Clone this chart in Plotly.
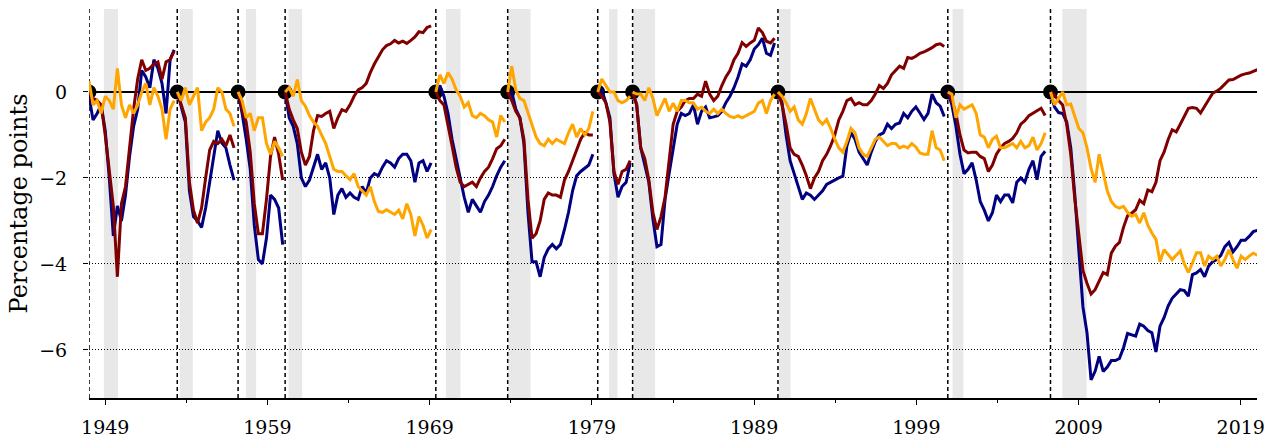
import plotly.graph_objects as go

# Cycle peaks (decimal years); each series is re-based to 0 at its peak
peak_dates = [1948.0, 1953.44, 1957.19, 1960.09, 1969.38, 1973.81,
              1979.36, 1981.51, 1990.47, 2000.94, 2007.27]

# NBER recessions (decimal years) for the grey bands
recession_start = [1948.92, 1953.6, 1957.67, 1960.3, 1970.0, 1973.85,
                   1980.06, 1981.55, 1990.53, 2001.23, 2008.0]
recession_end = [1949.79, 1954.4, 1958.3, 1961.14, 1970.9, 1975.22,
                 1980.58, 1982.9, 1991.25, 2001.9, 2009.5]

# Quarterly values (percentage points) after each peak
navy_48 = [-0.1, -0.65, -0.5, -0.3, -0.9, -2.0, -3.35, -2.65, -3.0, -2.4,
           -1.5, -0.8, -0.4, 0.5, 0.35, 0.1, 0.75, 0.55, 0.2, -0.5, 0.75, 0.98]
maroon_48 = [0.0, -0.15, -0.2, -0.3, -1.0, -1.9, -2.65, -4.3, -2.6, -2.2,
             -1.3, -0.4, 0.3, 0.75, 0.5, 0.55, 0.65, 0.7, 0.3, 0.7, 0.75, 0.95]
orange_48 = [0.25, -0.3, -0.2, -0.5, -0.1, -0.2, -0.4, 0.55, -0.3, -0.6,
             -0.3, -0.5, -0.3, 0.0, 0.2, -0.3, 0.1, -0.1, -0.4, -1.1, -0.4, -0.2]

navy_53 = [0, -0.35, -0.7, -2.3, -2.9, -3.0, -3.15, -2.7, -2.1, -1.5,
           -0.9, -1.19, -1.3, -1.7, -2.05]
maroon_53 = [0, -0.3, -0.6, -2.1, -2.75, -3.05, -2.7, -2.0, -1.35, -1.15,
             -1.2, -1.1, -1.25, -1.0, -1.3]
orange_53 = [0, -0.2, 0.1, -0.3, -0.1, 0.1, -0.9, -0.7, -0.6, -0.4,
             0.1, 0.0, -0.4, -0.5, -0.8]

navy_57 = [0, -0.5, -1.1, -1.8, -3.1, -3.9, -4.0, -3.4, -2.4, -2.5, -2.7, -3.55]
maroon_57 = [0, -0.4, -0.7, -1.4, -2.6, -3.3, -3.3, -2.5, -1.5, -1.05, -1.45, -2.05]
orange_57 = [0, -0.2, -0.6, -0.5, -0.9, -0.6, -0.6, -1.2, -1.45, -1.15, -1.3, -1.5]

navy_60 = [0, -0.6, -0.8, -1.2, -2.0, -2.2, -2.05, -1.75, -1.45, -1.8,
           -1.65, -2.0, -2.85, -2.4, -2.25, -2.45, -2.35, -2.45, -2.5, -2.2,
           -2.35, -2.0, -1.9, -1.95, -1.75, -1.6, -1.65, -1.75, -1.55, -1.45,
           -1.45, -1.6, -2.1, -1.65, -1.6, -1.85, -1.65]
maroon_60 = [0, -0.4, -0.65, -0.85, -1.4, -1.7, -1.5, -0.9, -0.55, -0.57,
             -0.5, -0.45, -0.85, -0.6, -0.41, -0.45, -0.3, -0.1, 0.05, 0.1,
             0.2, 0.45, 0.65, 0.83, 0.98, 1.08, 1.12, 1.2, 1.14, 1.18,
             1.13, 1.2, 1.28, 1.4, 1.38, 1.5, 1.54]
orange_60 = [0, 0.1, -0.1, 0.29, -0.2, -0.33, -0.55, -0.7, -0.8, -1.0,
             -1.2, -1.5, -1.8, -1.85, -1.85, -1.95, -2.04, -1.9, -2.2, -2.3,
             -2.4, -2.2, -2.55, -2.78, -2.8, -2.74, -2.8, -2.85, -2.75, -2.95,
             -2.6, -2.85, -3.35, -2.9, -3.1, -3.4, -3.2]

navy_69 = [0, 0.15, -0.1, -0.5, -1.1, -1.55, -2.0, -2.45, -2.8, -2.5,
           -2.65, -2.8, -2.55, -2.4, -2.2, -1.95, -1.75, -1.6]
maroon_69 = [0, -0.2, -0.3, -0.75, -1.25, -1.75, -2.1, -2.2, -2.15, -2.1,
             -2.2, -2.0, -1.85, -1.75, -1.55, -1.32, -1.25, -1.1]
orange_69 = [0, 0.4, 0.2, 0.45, 0.3, 0.05, -0.1, -0.35, -0.25, -0.55,
             -0.6, -0.5, -0.55, -0.65, -0.7, -1.05, -0.55, -0.7]

navy_73 = [0, 0.0, -0.4, -0.6, -1.2, -2.8, -3.95, -3.95, -4.3, -3.85,
           -3.65, -3.55, -3.65, -3.55, -3.2, -2.8, -2.3, -1.95, -1.85, -1.78,
           -1.7, -1.45]
maroon_73 = [0, -0.2, -0.45, -0.6, -1.1, -2.5, -3.4, -3.3, -3.0, -2.5,
             -2.35, -2.4, -2.4, -2.45, -2.05, -1.85, -1.6, -1.35, -1.1, -0.95,
             -1.0, -1.0]
orange_73 = [0, 0.6, 0.05, -0.15, -0.2, -0.5, -0.8, -1.05, -1.2, -1.25,
             -1.1, -1.2, -1.1, -1.15, -1.2, -0.95, -0.75, -1.05, -0.85, -1.0,
             -0.85, -0.45]

navy_79 = [0, 0.05, -0.25, -0.6, -1.9, -2.45, -2.2, -2.1, -1.65]
maroon_79 = [0, -0.1, -0.25, -0.7, -1.85, -2.15, -1.85, -1.8, -1.6]
orange_79 = [0, 0.3, 0.15, 0.0, 0.0, -0.2, -0.25, -0.2, -0.1]

navy_81 = [0, -0.3, -1.3, -1.7, -2.1, -2.95, -3.6, -3.55, -2.5, -1.9,
           -1.3, -0.75, -0.5, -0.55, -0.5, -0.3, -0.75, -0.45, -0.35, -0.6,
           -0.58, -0.55, -0.45, -0.25, -0.1, 0.1, 0.35, 0.65, 0.6, 0.75,
           1.0, 1.1, 1.25, 0.9, 0.85, 1.14]
maroon_81 = [0, -0.3, -1.3, -1.55, -2.05, -2.8, -3.2, -2.9, -2.45, -1.6,
             -0.75, -0.45, -0.35, -0.2, -0.15, -0.15, -0.05, -0.1, 0.25, -0.05,
             -0.2, -0.1, 0.15, 0.35, 0.5, 0.75, 0.9, 1.15, 1.06, 1.14,
             1.2, 1.49, 1.38, 1.18, 1.14, 1.25]
orange_81 = [0, -0.05, -0.05, -0.2, 0.1, -0.15, -0.55, -0.35, -0.15, -0.45,
             -0.26, -0.45, -0.2, -0.2, -0.25, -0.25, -0.4, -0.35, -0.45, -0.5,
             -0.4, -0.5, -0.4, -0.5, -0.57, -0.6, -0.55, -0.6, -0.55, -0.5,
             -0.45, -0.26, -0.2, -0.5, -0.2, -0.05]

navy_90 = [0, -0.25, -1.0, -1.6, -1.9, -2.2, -2.5, -2.35, -2.4, -2.5,
           -2.4, -2.3, -2.15, -2.1, -2.04, -2.0, -1.96, -1.25, -0.95, -1.1,
           -1.4, -1.55, -1.7, -1.4, -1.15, -1.0, -0.95, -0.75, -0.85, -0.75,
           -0.72, -0.5, -0.6, -0.45, -0.35, -0.49, -0.64, -0.5, -0.05, -0.25,
           -0.33, -0.57]
maroon_90 = [0, -0.3, -0.75, -1.3, -1.45, -1.5, -1.7, -1.95, -2.25, -2.0,
             -1.85, -1.6, -1.45, -1.25, -1.0, -0.65, -0.45, -0.2, -0.15, -0.3,
             -0.25, -0.3, -0.3, -0.2, -0.05, 0.15, 0.08, 0.2, 0.4, 0.5,
             0.6, 0.55, 0.8, 0.78, 0.83, 0.9, 0.93, 0.98, 1.03, 1.1,
             1.12, 1.06]
orange_90 = [0, -0.1, -0.25, -0.45, -0.35, -0.65, -0.75, -0.5, -0.15, -0.4,
             -0.65, -0.75, -0.64, -0.85, -1.1, -1.3, -1.4, -1.15, -0.85, -0.95,
             -1.3, -1.45, -1.5, -1.3, -1.1, -1.05, -1.15, -1.25, -1.2, -1.2,
             -1.3, -1.26, -1.3, -1.2, -1.28, -1.42, -1.45, -1.45, -0.9, -1.3,
             -1.35, -1.6]

navy_00 = [0, -0.3, -0.8, -1.45, -1.9, -1.8, -1.65, -2.05, -2.55, -2.75,
           -3.0, -2.81, -2.4, -2.55, -2.4, -2.4, -2.58, -2.1, -2.0, -2.1,
           -1.8, -1.6, -2.04, -1.5, -1.38]
maroon_00 = [0, -0.2, -0.5, -1.0, -1.35, -1.42, -1.4, -1.4, -1.5, -1.55,
             -1.85, -1.7, -1.45, -1.3, -1.2, -1.15, -1.08, -0.95, -0.75, -0.67,
             -0.55, -0.49, -0.42, -0.38, -0.55]
orange_00 = [0, -0.05, -0.6, -0.3, -0.4, -0.35, -0.3, -0.5, -1.0, -1.05,
             -1.3, -1.1, -1.03, -1.3, -1.3, -1.25, -1.2, -1.3, -1.15, -1.3,
             -1.25, -1.05, -1.35, -1.2, -0.95]

navy_07 = [0, -0.35, -0.48, -0.5, -0.7, -1.3, -2.4, -3.6, -5.0, -5.6,
           -6.7, -6.5, -6.15, -6.5, -6.4, -6.25, -6.25, -6.2, -5.95, -5.62,
           -5.65, -5.68, -5.4, -5.45, -5.55, -5.6, -6.05, -5.45, -5.25, -4.98,
           -4.8, -4.7, -4.6, -4.62, -4.75, -4.25, -4.21, -4.13, -4.3, -4.05,
           -3.95, -3.9, -3.8, -3.6, -3.5, -3.72, -3.6, -3.45, -3.45, -3.36,
           -3.25, -3.22]
maroon_07 = [0, -0.08, -0.2, -0.3, -0.75, -1.45, -2.5, -3.4, -4.15, -4.45,
             -4.7, -4.6, -4.4, -4.2, -4.25, -3.75, -3.59, -3.5, -3.15, -2.88,
             -2.82, -2.74, -2.52, -2.6, -2.28, -2.32, -2.1, -1.6, -1.4, -1.11,
             -0.88, -0.93, -0.75, -0.55, -0.38, -0.36, -0.38, -0.49, -0.35, -0.18,
             -0.03, 0.02, 0.09, 0.18, 0.28, 0.29, 0.34, 0.39, 0.42, 0.44,
             0.48, 0.52]
orange_07 = [0, -0.3, -0.15, 0.0, -0.3, -0.28, -0.57, -0.85, -0.95, -1.3,
             -1.78, -2.1, -1.45, -1.9, -2.3, -2.55, -2.66, -2.7, -2.66, -2.8,
             -2.89, -2.85, -3.05, -2.81, -3.1, -3.28, -3.43, -3.95, -3.67, -3.78,
             -3.9, -3.8, -3.7, -4.0, -4.2, -3.98, -3.74, -3.74, -4.05, -3.82,
             -3.9, -3.82, -4.05, -3.9, -3.67, -3.9, -4.1, -3.82, -3.9, -3.82,
             -3.75, -3.8]

navy_series = [navy_48, navy_53, navy_57, navy_60, navy_69, navy_73,
               navy_79, navy_81, navy_90, navy_00, navy_07]
maroon_series = [maroon_48, maroon_53, maroon_57, maroon_60, maroon_69, maroon_73,
                 maroon_79, maroon_81, maroon_90, maroon_00, maroon_07]
orange_series = [orange_48, orange_53, orange_57, orange_60, orange_69, orange_73,
                 orange_79, orange_81, orange_90, orange_00, orange_07]

x_min, x_max = 1948.0, 2020.0
y_min, y_max = -7.12, 1.93
FONT = "DejaVu Serif"

fig = go.Figure()

shapes = []
for a, b in zip(recession_start, recession_end):
    shapes.append(dict(type="rect", xref="x", yref="paper", x0=a, x1=b, y0=0, y1=1,
                       fillcolor="#e8e8e8", line_width=0, layer="below"))
for p in peak_dates:
    shapes.append(dict(type="line", xref="x", yref="paper", x0=p, x1=p, y0=0, y1=1,
                       line=dict(color="black", width=1.5, dash="4px,3px"),
                       layer="between"))

# horizontal reference at zero
fig.add_trace(go.Scatter(x=[x_min, x_max], y=[0, 0], mode="lines",
                         line=dict(color="black", width=2), hoverinfo="skip"))

# markers at each peak
fig.add_trace(go.Scatter(x=peak_dates, y=[0] * len(peak_dates), mode="markers",
                         marker=dict(color="black", size=15), hoverinfo="skip"))

for series, color in ((navy_series, "#000080"), (maroon_series, "#800000"),
                      (orange_series, "#FFA500")):
    for start, vals in zip(peak_dates, series):
        xs = [start + 0.25 * i for i in range(len(vals))]
        fig.add_trace(go.Scatter(x=xs, y=vals, mode="lines",
                                 line=dict(color=color, width=3)))

fig.update_layout(
    width=1277, height=442, autosize=False,
    margin=dict(l=89, r=20, t=9, b=44),
    paper_bgcolor="white", plot_bgcolor="white",
    showlegend=False, shapes=shapes,
    font=dict(family=FONT, size=19, color="black"),
    xaxis=dict(range=[x_min, x_max], tick0=1949, dtick=10, automargin=False,
               ticks="outside", ticklen=5, tickwidth=1.2, tickcolor="black",
               showline=True, linecolor="black", linewidth=1.5,
               showgrid=False, zeroline=False, ticklabelstandoff=6,
               tickfont=dict(family=FONT, size=19, color="black"),
               minor=dict(tick0=1949, dtick=5, ticks="outside", ticklen=3,
                          tickwidth=1, tickcolor="black", showgrid=False)),
    yaxis=dict(range=[y_min, y_max], tickvals=[-6, -4, -2, 0], automargin=False,
               ticks="outside", ticklen=5, tickwidth=1.2, tickcolor="black",
               showline=False, zeroline=False,
               showgrid=True, gridcolor="black", gridwidth=1, griddash="1px,2px",
               ticklabelstandoff=12,
               tickfont=dict(family=FONT, size=19, color="black"),
               title=dict(text="Percentage points", standoff=4,
                          font=dict(family=FONT, size=24, color="black"))),
)

fig.write_html("out.html")
